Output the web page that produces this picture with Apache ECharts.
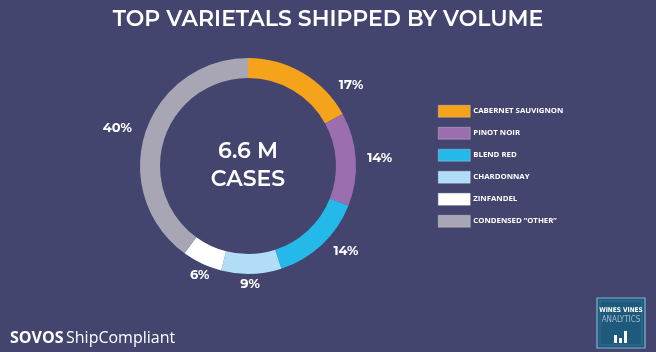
<!DOCTYPE html>
<html><head><meta charset="utf-8">
<script src="https://cdn.jsdelivr.net/npm/echarts@6/dist/echarts.min.js"></script>
<style>html,body{margin:0;padding:0;background:#44456f;}#c{width:656px;height:352px;}</style>
</head><body><div id="c"></div>
<script>
var categories = ['CABERNET SAUVIGNON', 'PINOT NOIR', 'BLEND RED', 'CHARDONNAY', 'ZINFANDEL', 'CONDENSED \u201cOTHER\u201d'];
var shares = [17, 14, 14, 9, 6, 40];
var colors = ['#f5a31a', '#9b6eb0', '#25b9ea', '#b1def6', '#ffffff', '#a8a6b4'];
var centerLines = ['6.6 M', 'CASES'];
var titleText = 'TOP VARIETALS SHIPPED BY VOLUME';

var labelOffsets = {0: [37, 31], 1: [2, 0], 2: [9, -10], 3: [-2, -12], 4: [7, -8], 5: [-7, 2]};
var chart = echarts.init(document.getElementById('c'));
var font = 'Montserrat, "Open Sans", "Noto Sans", sans-serif';
var pieData = categories.map(function (c, i) {
  return { name: c, value: shares[i], itemStyle: { color: colors[i] } };
});
var labelData = categories.map(function (c, i) {
  var d = { name: c, value: shares[i] };
  if (labelOffsets[i]) d.label = { offset: labelOffsets[i] };
  return d;
});
chart.setOption({
  backgroundColor: '#44456f',
  animation: false,
  title: {
    text: titleText, left: 'center', top: 4,
    textStyle: { color: '#ffffff', fontSize: 22, fontWeight: 600, fontFamily: font }
  },
  legend: {
    orient: 'vertical', left: 433, top: 100,
    itemWidth: 32, itemHeight: 12, itemGap: 9.5,
    icon: 'rect',
    data: categories,
    itemStyle: { borderColor: 'rgba(255,255,255,0.5)', borderWidth: 0.5 },
    textStyle: { color: '#ffffff', fontSize: 7.8, lineHeight: 12, fontWeight: 'bold', fontFamily: '"Open Sans", sans-serif', padding: [0, 0, 0, -2] },
    selectedMode: false
  },
  graphic: [
    { type: 'group', left: 10, top: 330, children: [
      { type: 'text', style: { text: 'SOVOS', x: 0, y: 0, fill: '#ffffff', font: 'bold 16px "Open Sans", sans-serif' } },
      { type: 'text', style: { text: 'ShipCompliant', x: 56, y: 0, fill: '#ffffff', font: '16px "Open Sans", sans-serif' } }
    ]},
    { type: 'rect', shape: { x: 597, y: 298, width: 48, height: 50 }, style: { fill: '#1e5a7c', stroke: '#7fb3cf', lineWidth: 1.2 } },
    { type: 'rect', shape: { x: 600, y: 301, width: 42, height: 44 }, style: { fill: 'none', stroke: '#4f86a6', lineWidth: 0.5 } },
    { type: 'text', style: { text: 'WINES VINES', x: 621, y: 310, align: 'center', verticalAlign: 'middle', fill: '#ffffff', font: 'bold 6.5px "DejaVu Sans Condensed", sans-serif' } },
    { type: 'text', style: { text: 'ANALYTICS', x: 621, y: 320, align: 'center', verticalAlign: 'middle', fill: '#aab8c8', font: '8px "DejaVu Sans Condensed", sans-serif' } },
    { type: 'rect', shape: { x: 614, y: 335, width: 3, height: 8 }, style: { fill: '#ffffff' } },
    { type: 'rect', shape: { x: 619, y: 338, width: 3, height: 5 }, style: { fill: '#ffffff' } },
    { type: 'rect', shape: { x: 624, y: 331, width: 3, height: 12 }, style: { fill: '#ffffff' } }
  ],
  series: [
    {
      type: 'pie', center: [248, 166], radius: [88, 108],
      startAngle: 90, clockwise: true, silent: true,
      label: {
        show: true, position: 'center',
        formatter: function (p) { return p.dataIndex === 0 ? centerLines.join('\n') : ''; },
        color: '#ffffff', fontSize: 22, fontWeight: 600, lineHeight: 28, fontFamily: font
      },
      labelLine: { show: false },
      data: pieData
    },
    {
      type: 'pie', center: [248, 166], radius: [112, 142],
      startAngle: 90, clockwise: true, silent: true,
      itemStyle: { color: 'rgba(0,0,0,0)' },
      label: {
        show: true, position: 'inside', formatter: '{c}%',
        color: '#ffffff', fontSize: 13, fontWeight: 'bold', fontFamily: font
      },
      labelLine: { show: false },
      legendHoverLink: false,
      data: labelData
    }
  ]
});
</script></body></html>
